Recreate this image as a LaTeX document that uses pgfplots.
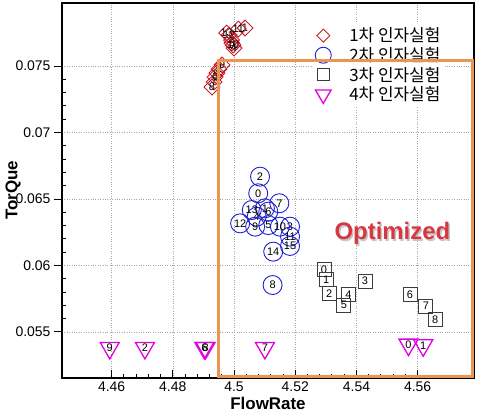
\documentclass[border=0pt]{standalone}
\usepackage{fontspec}
\setmainfont{Liberation Sans}
\newfontfamily\kr{Noto Sans CJK KR}
\usepackage{pgfplots}
\pgfplotsset{compat=1.18}
\usepackage{pgfplotstable}

\definecolor{dred}{RGB}{200,30,40}
\definecolor{dblue}{RGB}{30,30,210}
\definecolor{dgray}{RGB}{60,60,60}
\definecolor{mag}{RGB}{225,0,225}
\definecolor{orng}{RGB}{235,150,80}
\definecolor{optred}{RGB}{215,55,65}

\pgfplotstableread{
x y lab
4.5036 0.07786 1
4.5014 0.07778 11
4.4976 0.07748 13
4.4984 0.07733 12
4.4992 0.07695 3
4.4993 0.07673 5
4.4997 0.07658 10
4.5000 0.07635 4
4.4961 0.07508 9
4.4951 0.07477 2
4.4944 0.07447 0
4.4938 0.07417 6
4.4935 0.07380 7
4.4928 0.07342 8
}\tA

\pgfplotstableread{
x y lab
4.5079 0.06543 0
4.5101 0.06430 1
4.5085 0.06668 2
4.5183 0.06292 3
4.5074 0.06367 4
4.5112 0.06304 5
4.5112 0.06405 6
4.5148 0.06468 7
4.5126 0.05853 8
4.5069 0.06292 9
4.5150 0.06292 10
4.5183 0.06217 11
4.5020 0.06317 12
4.5058 0.06417 13
4.5128 0.06104 14
4.5183 0.06147 15
}\tB

\pgfplotstableread{
x y lab
4.5294 0.05970 0
4.5301 0.05895 1
4.5311 0.05787 2
4.5428 0.05882 3
4.5374 0.05782 4
4.5359 0.05701 5
4.5575 0.05782 6
4.5627 0.05694 7
4.5657 0.05594 8
}\tC

\pgfplotstableread{
x y lab
4.4594 0.05380 9
4.4709 0.05380 2
4.4903 0.05380 6
4.4907 0.05380 8
4.5101 0.05380 7
4.5570 0.05405 0
4.5618 0.05400 1
}\tD

\begin{document}
\begin{tikzpicture}
\begin{axis}[
  scale only axis, width=412bp, height=375bp,
  xmin=4.4438, xmax=4.5784, ymin=0.05154, ymax=0.07974,
  xtick={4.46,4.48,4.5,4.52,4.54,4.56},
  ytick={0.055,0.06,0.065,0.07,0.075},
  minor x tick num=4, minor y tick num=4,
  xtick pos=bottom, ytick pos=left,
  xtick align=inside, ytick align=outside,
  major tick length=8bp, minor tick length=4bp,
  tick style={black, line width=1bp},
  minor y tick style={xshift=4bp},
  axis line style={line width=1.5bp},
  grid=major, major grid style={dotted, gray!70},
  scaled ticks=false,
  /pgf/number format/assume math mode=true,
  xticklabel style={font=\fontsize{14}{14}\selectfont, /pgf/number format/fixed, /pgf/number format/precision=2},
  yticklabel style={font=\fontsize{14}{14}\selectfont, /pgf/number format/fixed, /pgf/number format/precision=3},
  xlabel={\textbf{FlowRate}}, ylabel={\textbf{TorQue}},
  label style={font=\fontsize{17}{17}\selectfont},
  xlabel style={yshift=1bp},
  ylabel style={yshift=-12bp},
  legend style={at={(0.607,0.945)}, anchor=north west, draw=none, fill=white,
    font=\fontsize{17}{20}\selectfont, row sep=0bp},
  legend cell align=left,
  nodes near coords, point meta=explicit symbolic,
  every node near coord/.append style={anchor=center, text=black, font=\fontsize{11}{11}\selectfont, inner sep=0pt},
]
\addplot[only marks, mark=square, mark size=5.6bp, mark options={rotate=45, draw=dred, line width=0.9bp, fill=none},
  legend image code/.code={\draw[mark=square, mark size=4.6bp, mark options={rotate=45, draw=dred, line width=0.9bp}] plot coordinates {(8.5bp,0bp)};}]
  table[x=x, y=y, meta=lab] {\tA};
\addlegendentry{{\kr\hspace*{16bp}1차 인자실험}}
\addplot[only marks, mark=o, mark size=9.5bp, mark options={draw=dblue, line width=0.9bp},
  legend image code/.code={\draw[mark=o, mark size=8bp, mark options={draw=dblue, line width=0.9bp}] plot coordinates {(8.5bp,0bp)};}]
  table[x=x, y=y, meta=lab] {\tB};
\addlegendentry{{\kr\hspace*{16bp}2차 인자실험}}
\addplot[only marks, mark=square, mark size=7bp, mark options={draw=dgray, line width=1bp},
  legend image code/.code={\draw[mark=square, mark size=6bp, mark options={draw=dgray, line width=1bp}] plot coordinates {(8.5bp,0bp)};}]
  table[x=x, y=y, meta=lab] {\tC};
\addlegendentry{{\kr\hspace*{16bp}3차 인자실험}}
\addplot[only marks, mark=triangle, mark size=11bp, mark options={rotate=180, draw=mag, line width=1.3bp},
  legend image code/.code={\draw[mark=triangle, mark size=9bp, mark options={rotate=180, draw=mag, line width=1.3bp}] plot coordinates {(8.5bp,0bp)};}]
  table[x=x, y=y, meta=lab] {\tD};
\addlegendentry{{\kr\hspace*{16bp}4차 인자실험}}
\node[anchor=base west, font=\fontsize{24}{24}\selectfont\bfseries, text=gray!45] at (axis cs:4.5322,0.06182) {Optimized};
\node[anchor=base west, font=\fontsize{24}{24}\selectfont\bfseries, text=optred] at (axis cs:4.5317,0.06192) {Optimized};
\coordinate (RA) at (axis cs:4.4948,0.07538);
\coordinate (RB) at (axis cs:4.5779,0.05168);
\end{axis}
\draw[orng, line width=3bp] (RA) rectangle (RB);
\pgfresetboundingbox
\path[use as bounding box] (-62bp,-36bp) rectangle (415bp,378bp);
\end{tikzpicture}
\end{document}
